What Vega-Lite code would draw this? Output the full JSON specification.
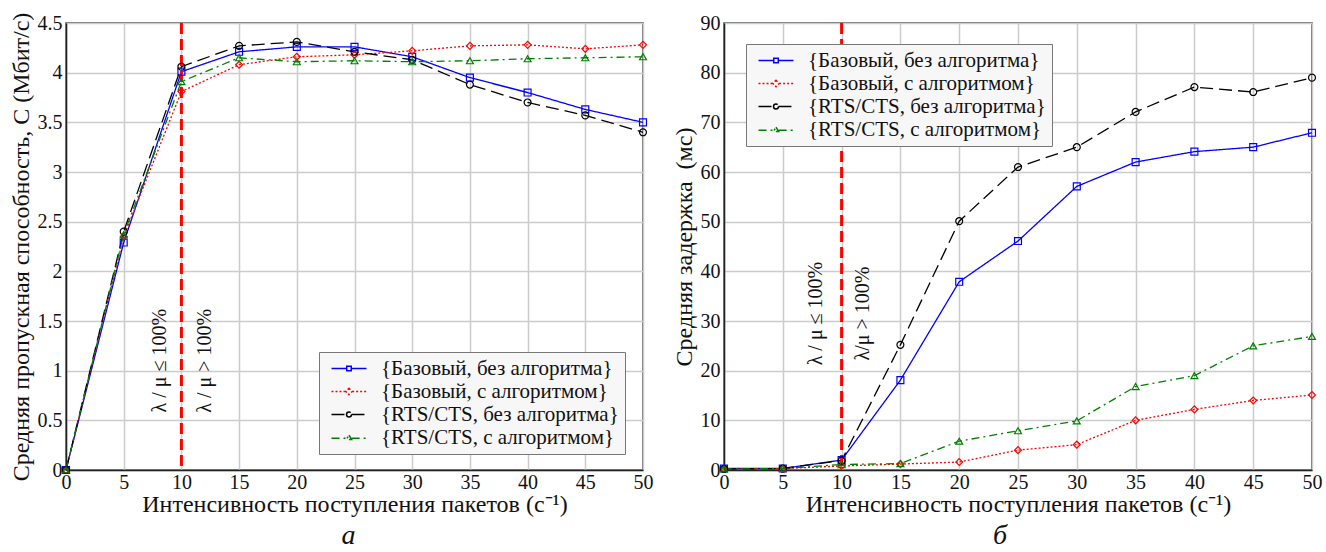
{
  "$schema": "https://vega.github.io/schema/vega-lite/v6.json",
  "background": "white",
  "padding": {"left": 8, "top": 11, "right": 5, "bottom": 0},
  "bounds": "flush",
  "spacing": 81,
  "config": {
    "font": "Liberation Serif",
    "view": {"stroke": "#444444", "strokeWidth": 1.5},
    "axis": {
      "labelFont": "Liberation Serif", "labelFontSize": 20, "labelColor": "#111111",
      "titleFont": "Liberation Serif", "titleFontSize": 24, "titleFontWeight": "normal", "titleColor": "#111111",
      "gridColor": "#cccccc", "gridWidth": 1.5, "ticks": false,
      "domainColor": "#222222", "domainWidth": 1.5
    },
    "axisX": {"labelPadding": 2, "labelDx": 5, "titlePadding": 0, "labelFlush": false},
    "axisY": {"labelPadding": 4, "titlePadding": 4},
    "point": {"filled": false, "size": 48, "strokeWidth": 1.2, "opacity": 1},
    "legend": {
      "symbolType": "M-2.5,0H2.5", "symbolSize": 196, "symbolStrokeWidth": 1.5,
      "labelFont": "Liberation Serif", "labelFontSize": 21, "labelColor": "#111111", "labelLimit": 500,
      "fillColor": "#f7f7f7", "strokeColor": "#777777", "padding": 6, "rowPadding": 1,
      "symbolOffset": 13.5, "labelOffset": 21.5
    },
    "title": {"font": "Liberation Serif", "fontStyle": "italic", "fontWeight": "normal", "fontSize": 28, "color": "#111111"}
  },
  "resolve": {
    "scale": {"color": "independent", "strokeDash": "independent", "x": "independent", "y": "independent"},
    "legend": {"color": "independent", "strokeDash": "independent"}
  },
  "datasets": {
    "thr": [
      {"x": 0, "s": "{Базовый, без алгоритма}", "y": 0},
      {"x": 5, "s": "{Базовый, без алгоритма}", "y": 2.29},
      {"x": 10, "s": "{Базовый, без алгоритма}", "y": 4.01},
      {"x": 15, "s": "{Базовый, без алгоритма}", "y": 4.21},
      {"x": 20, "s": "{Базовый, без алгоритма}", "y": 4.26},
      {"x": 25, "s": "{Базовый, без алгоритма}", "y": 4.26},
      {"x": 30, "s": "{Базовый, без алгоритма}", "y": 4.16},
      {"x": 35, "s": "{Базовый, без алгоритма}", "y": 3.95},
      {"x": 40, "s": "{Базовый, без алгоритма}", "y": 3.80},
      {"x": 45, "s": "{Базовый, без алгоритма}", "y": 3.63},
      {"x": 50, "s": "{Базовый, без алгоритма}", "y": 3.50},
      {"x": 0, "s": "{Базовый, с алгоритмом}", "y": 0},
      {"x": 5, "s": "{Базовый, с алгоритмом}", "y": 2.35},
      {"x": 10, "s": "{Базовый, с алгоритмом}", "y": 3.81},
      {"x": 15, "s": "{Базовый, с алгоритмом}", "y": 4.08},
      {"x": 20, "s": "{Базовый, с алгоритмом}", "y": 4.16},
      {"x": 25, "s": "{Базовый, с алгоритмом}", "y": 4.18},
      {"x": 30, "s": "{Базовый, с алгоритмом}", "y": 4.22},
      {"x": 35, "s": "{Базовый, с алгоритмом}", "y": 4.27},
      {"x": 40, "s": "{Базовый, с алгоритмом}", "y": 4.28},
      {"x": 45, "s": "{Базовый, с алгоритмом}", "y": 4.24},
      {"x": 50, "s": "{Базовый, с алгоритмом}", "y": 4.28},
      {"x": 0, "s": "{RTS/CTS, без алгоритма}", "y": 0},
      {"x": 5, "s": "{RTS/CTS, без алгоритма}", "y": 2.40},
      {"x": 10, "s": "{RTS/CTS, без алгоритма}", "y": 4.06},
      {"x": 15, "s": "{RTS/CTS, без алгоритма}", "y": 4.27},
      {"x": 20, "s": "{RTS/CTS, без алгоритма}", "y": 4.31},
      {"x": 25, "s": "{RTS/CTS, без алгоритма}", "y": 4.21},
      {"x": 30, "s": "{RTS/CTS, без алгоритма}", "y": 4.13},
      {"x": 35, "s": "{RTS/CTS, без алгоритма}", "y": 3.88},
      {"x": 40, "s": "{RTS/CTS, без алгоритма}", "y": 3.70},
      {"x": 45, "s": "{RTS/CTS, без алгоритма}", "y": 3.57},
      {"x": 50, "s": "{RTS/CTS, без алгоритма}", "y": 3.40},
      {"x": 0, "s": "{RTS/CTS, с алгоритмом}", "y": 0},
      {"x": 5, "s": "{RTS/CTS, с алгоритмом}", "y": 2.37},
      {"x": 10, "s": "{RTS/CTS, с алгоритмом}", "y": 3.91},
      {"x": 15, "s": "{RTS/CTS, с алгоритмом}", "y": 4.15},
      {"x": 20, "s": "{RTS/CTS, с алгоритмом}", "y": 4.11},
      {"x": 25, "s": "{RTS/CTS, с алгоритмом}", "y": 4.12},
      {"x": 30, "s": "{RTS/CTS, с алгоритмом}", "y": 4.11},
      {"x": 35, "s": "{RTS/CTS, с алгоритмом}", "y": 4.12},
      {"x": 40, "s": "{RTS/CTS, с алгоритмом}", "y": 4.14},
      {"x": 45, "s": "{RTS/CTS, с алгоритмом}", "y": 4.15},
      {"x": 50, "s": "{RTS/CTS, с алгоритмом}", "y": 4.16}
    ],
    "del": [
      {"x": 0, "s": "{Базовый, без алгоритма}", "y": 0.3},
      {"x": 5, "s": "{Базовый, без алгоритма}", "y": 0.3},
      {"x": 10, "s": "{Базовый, без алгоритма}", "y": 2.0},
      {"x": 15, "s": "{Базовый, без алгоритма}", "y": 18.1},
      {"x": 20, "s": "{Базовый, без алгоритма}", "y": 37.9},
      {"x": 25, "s": "{Базовый, без алгоритма}", "y": 46.1},
      {"x": 30, "s": "{Базовый, без алгоритма}", "y": 57.1},
      {"x": 35, "s": "{Базовый, без алгоритма}", "y": 62.0},
      {"x": 40, "s": "{Базовый, без алгоритма}", "y": 64.1},
      {"x": 45, "s": "{Базовый, без алгоритма}", "y": 65.0},
      {"x": 50, "s": "{Базовый, без алгоритма}", "y": 67.9},
      {"x": 0, "s": "{Базовый, с алгоритмом}", "y": 0.2},
      {"x": 5, "s": "{Базовый, с алгоритмом}", "y": 0.3},
      {"x": 10, "s": "{Базовый, с алгоритмом}", "y": 0.8},
      {"x": 15, "s": "{Базовый, с алгоритмом}", "y": 1.2},
      {"x": 20, "s": "{Базовый, с алгоритмом}", "y": 1.6},
      {"x": 25, "s": "{Базовый, с алгоритмом}", "y": 4.0},
      {"x": 30, "s": "{Базовый, с алгоритмом}", "y": 5.1},
      {"x": 35, "s": "{Базовый, с алгоритмом}", "y": 10.0},
      {"x": 40, "s": "{Базовый, с алгоритмом}", "y": 12.2},
      {"x": 45, "s": "{Базовый, с алгоритмом}", "y": 14.0},
      {"x": 50, "s": "{Базовый, с алгоритмом}", "y": 15.1},
      {"x": 0, "s": "{RTS/CTS, без алгоритма}", "y": 0.2},
      {"x": 5, "s": "{RTS/CTS, без алгоритма}", "y": 0.3},
      {"x": 10, "s": "{RTS/CTS, без алгоритма}", "y": 1.9},
      {"x": 15, "s": "{RTS/CTS, без алгоритма}", "y": 25.2},
      {"x": 20, "s": "{RTS/CTS, без алгоритма}", "y": 50.1},
      {"x": 25, "s": "{RTS/CTS, без алгоритма}", "y": 61.0},
      {"x": 30, "s": "{RTS/CTS, без алгоритма}", "y": 65.0},
      {"x": 35, "s": "{RTS/CTS, без алгоритма}", "y": 72.1},
      {"x": 40, "s": "{RTS/CTS, без алгоритма}", "y": 77.1},
      {"x": 45, "s": "{RTS/CTS, без алгоритма}", "y": 76.1},
      {"x": 50, "s": "{RTS/CTS, без алгоритма}", "y": 79.0},
      {"x": 0, "s": "{RTS/CTS, с алгоритмом}", "y": 0.2},
      {"x": 5, "s": "{RTS/CTS, с алгоритмом}", "y": 0.3},
      {"x": 10, "s": "{RTS/CTS, с алгоритмом}", "y": 1.1},
      {"x": 15, "s": "{RTS/CTS, с алгоритмом}", "y": 1.3},
      {"x": 20, "s": "{RTS/CTS, с алгоритмом}", "y": 5.8},
      {"x": 25, "s": "{RTS/CTS, с алгоритмом}", "y": 7.9},
      {"x": 30, "s": "{RTS/CTS, с алгоритмом}", "y": 9.9},
      {"x": 35, "s": "{RTS/CTS, с алгоритмом}", "y": 16.8},
      {"x": 40, "s": "{RTS/CTS, с алгоритмом}", "y": 19.0},
      {"x": 45, "s": "{RTS/CTS, с алгоритмом}", "y": 25.0},
      {"x": 50, "s": "{RTS/CTS, с алгоритмом}", "y": 26.9}
    ]
  },
  "hconcat": [
    {
      "width": 577,
      "height": 447,
      "title": {"text": "а", "orient": "bottom", "frame": "group", "dx": -6, "offset": 6},
      "layer": [
        {
          "data": {"name": "thr"},
          "mark": {"type": "line", "strokeWidth": 1.3},
          "encoding": {
            "x": {"field": "x", "type": "quantitative", "scale": {"domain": [0, 50], "nice": false},
                  "axis": {"title": "Интенсивность поступления пакетов (с⁻¹)", "values": [0, 5, 10, 15, 20, 25, 30, 35, 40, 45, 50]}},
            "y": {"field": "y", "type": "quantitative", "scale": {"domain": [0, 4.5], "nice": false},
                  "axis": {"title": "Средняя пропускная способность, С (Мбит/с)", "values": [0, 0.5, 1, 1.5, 2, 2.5, 3, 3.5, 4, 4.5], "format": "~g"}},
            "color": {"field": "s", "type": "nominal",
                      "scale": {"domain": ["{Базовый, без алгоритма}", "{Базовый, с алгоритмом}", "{RTS/CTS, без алгоритма}", "{RTS/CTS, с алгоритмом}"], "range": ["#0000ff", "#ff0000", "#000000", "#008000"]},
                      "legend": {"title": null, "orient": "none", "legendX": 253, "legendY": 329,
                                 "encoding": {"symbols": {"shape": {"value": {"expr": "['M-2.5,0H-0.32M0.32,0H2.5M-0.32,-0.32H0.32V0.32H-0.32Z','M-2.5,0H-0.45M0.45,0H2.5M0,-0.45L0.45,0L0,0.45L-0.45,0Z','M-2.5,0H-0.35M0.35,0H2.5M0.35,0A0.35,0.35,0,1,1,-0.35,0A0.35,0.35,0,1,1,0.35,0Z','M-2.5,0.1H-0.38M0.38,0.1H2.5M0,-0.35L0.38,0.3H-0.38Z'][datum.index]"}}}}}},
            "strokeDash": {"field": "s", "type": "nominal",
                      "scale": {"domain": ["{Базовый, без алгоритма}", "{Базовый, с алгоритмом}", "{RTS/CTS, без алгоритма}", "{RTS/CTS, с алгоритмом}"], "range": [[1, 0], [2, 2], [13, 6], [8, 4, 2, 4]]},
                      "legend": {"title": null, "orient": "none", "legendX": 253, "legendY": 329,
                                 "encoding": {"symbols": {"shape": {"value": {"expr": "['M-2.5,0H-0.32M0.32,0H2.5M-0.32,-0.32H0.32V0.32H-0.32Z','M-2.5,0H-0.45M0.45,0H2.5M0,-0.45L0.45,0L0,0.45L-0.45,0Z','M-2.5,0H-0.35M0.35,0H2.5M0.35,0A0.35,0.35,0,1,1,-0.35,0A0.35,0.35,0,1,1,0.35,0Z','M-2.5,0.1H-0.38M0.38,0.1H2.5M0,-0.35L0.38,0.3H-0.38Z'][datum.index]"}}}}}}
          }
        },
        {
          "data": {"values": [{}]},
          "mark": {"type": "rule", "color": "#ff0000", "strokeWidth": 3, "strokeDash": [11, 5]},
          "encoding": {"x": {"datum": 10}}
        },
        {
          "data": {"name": "thr"},
          "transform": [{"filter": {"field": "s", "equal": "{Базовый, без алгоритма}"}}],
          "mark": {"type": "point", "shape": "square", "color": "#0000ff"},
          "encoding": {"x": {"field": "x", "type": "quantitative"}, "y": {"field": "y", "type": "quantitative"}}
        },
        {
          "data": {"name": "thr"},
          "transform": [{"filter": {"field": "s", "equal": "{Базовый, с алгоритмом}"}}],
          "mark": {"type": "point", "shape": "diamond", "color": "#ff0000"},
          "encoding": {"x": {"field": "x", "type": "quantitative"}, "y": {"field": "y", "type": "quantitative"}}
        },
        {
          "data": {"name": "thr"},
          "transform": [{"filter": {"field": "s", "equal": "{RTS/CTS, без алгоритма}"}}],
          "mark": {"type": "point", "shape": "circle", "color": "#000000"},
          "encoding": {"x": {"field": "x", "type": "quantitative"}, "y": {"field": "y", "type": "quantitative"}}
        },
        {
          "data": {"name": "thr"},
          "transform": [{"filter": {"field": "s", "equal": "{RTS/CTS, с алгоритмом}"}}],
          "mark": {"type": "point", "shape": "triangle-up", "color": "#008000"},
          "encoding": {"x": {"field": "x", "type": "quantitative"}, "y": {"field": "y", "type": "quantitative"}}
        },
        {
          "data": {"values": [{}]},
          "mark": {"type": "text", "angle": 270, "align": "center", "baseline": "bottom", "dy": -11, "fontSize": 20, "font": "Liberation Serif", "color": "#111111"},
          "encoding": {"x": {"datum": 10}, "y": {"datum": 1.1}, "text": {"value": "λ / μ ≤ 100%"}}
        },
        {
          "data": {"values": [{}]},
          "mark": {"type": "text", "angle": 270, "align": "center", "baseline": "top", "dy": 14, "fontSize": 20, "font": "Liberation Serif", "color": "#111111"},
          "encoding": {"x": {"datum": 10}, "y": {"datum": 1.1}, "text": {"value": "λ / μ > 100%"}}
        }
      ]
    },
    {
      "width": 588,
      "height": 447,
      "title": {"text": "б", "orient": "bottom", "frame": "group", "dx": -18, "offset": 6},
      "layer": [
        {
          "data": {"name": "del"},
          "mark": {"type": "line", "strokeWidth": 1.3},
          "encoding": {
            "x": {"field": "x", "type": "quantitative", "scale": {"domain": [0, 50], "nice": false},
                  "axis": {"title": "Интенсивность поступления пакетов (с⁻¹)", "values": [0, 5, 10, 15, 20, 25, 30, 35, 40, 45, 50]}},
            "y": {"field": "y", "type": "quantitative", "scale": {"domain": [0, 90], "nice": false},
                  "axis": {"title": "Средняя задержка\u00a0\u00a0(мс)", "values": [0, 10, 20, 30, 40, 50, 60, 70, 80, 90]}},
            "color": {"field": "s", "type": "nominal",
                      "scale": {"domain": ["{Базовый, без алгоритма}", "{Базовый, с алгоритмом}", "{RTS/CTS, без алгоритма}", "{RTS/CTS, с алгоритмом}"], "range": ["#0000ff", "#ff0000", "#000000", "#008000"]},
                      "legend": {"title": null, "orient": "none", "legendX": 22, "legendY": 21,
                                 "encoding": {"symbols": {"shape": {"value": {"expr": "['M-2.5,0H-0.32M0.32,0H2.5M-0.32,-0.32H0.32V0.32H-0.32Z','M-2.5,0H-0.45M0.45,0H2.5M0,-0.45L0.45,0L0,0.45L-0.45,0Z','M-2.5,0H-0.35M0.35,0H2.5M0.35,0A0.35,0.35,0,1,1,-0.35,0A0.35,0.35,0,1,1,0.35,0Z','M-2.5,0.1H-0.38M0.38,0.1H2.5M0,-0.35L0.38,0.3H-0.38Z'][datum.index]"}}}}}},
            "strokeDash": {"field": "s", "type": "nominal",
                      "scale": {"domain": ["{Базовый, без алгоритма}", "{Базовый, с алгоритмом}", "{RTS/CTS, без алгоритма}", "{RTS/CTS, с алгоритмом}"], "range": [[1, 0], [2, 2], [13, 6], [8, 4, 2, 4]]},
                      "legend": {"title": null, "orient": "none", "legendX": 22, "legendY": 21,
                                 "encoding": {"symbols": {"shape": {"value": {"expr": "['M-2.5,0H-0.32M0.32,0H2.5M-0.32,-0.32H0.32V0.32H-0.32Z','M-2.5,0H-0.45M0.45,0H2.5M0,-0.45L0.45,0L0,0.45L-0.45,0Z','M-2.5,0H-0.35M0.35,0H2.5M0.35,0A0.35,0.35,0,1,1,-0.35,0A0.35,0.35,0,1,1,0.35,0Z','M-2.5,0.1H-0.38M0.38,0.1H2.5M0,-0.35L0.38,0.3H-0.38Z'][datum.index]"}}}}}}
          }
        },
        {
          "data": {"values": [{}]},
          "mark": {"type": "rule", "color": "#ff0000", "strokeWidth": 3, "strokeDash": [11, 5]},
          "encoding": {"x": {"datum": 10}}
        },
        {
          "data": {"name": "del"},
          "transform": [{"filter": {"field": "s", "equal": "{Базовый, без алгоритма}"}}],
          "mark": {"type": "point", "shape": "square", "color": "#0000ff"},
          "encoding": {"x": {"field": "x", "type": "quantitative"}, "y": {"field": "y", "type": "quantitative"}}
        },
        {
          "data": {"name": "del"},
          "transform": [{"filter": {"field": "s", "equal": "{Базовый, с алгоритмом}"}}],
          "mark": {"type": "point", "shape": "diamond", "color": "#ff0000"},
          "encoding": {"x": {"field": "x", "type": "quantitative"}, "y": {"field": "y", "type": "quantitative"}}
        },
        {
          "data": {"name": "del"},
          "transform": [{"filter": {"field": "s", "equal": "{RTS/CTS, без алгоритма}"}}],
          "mark": {"type": "point", "shape": "circle", "color": "#000000"},
          "encoding": {"x": {"field": "x", "type": "quantitative"}, "y": {"field": "y", "type": "quantitative"}}
        },
        {
          "data": {"name": "del"},
          "transform": [{"filter": {"field": "s", "equal": "{RTS/CTS, с алгоритмом}"}}],
          "mark": {"type": "point", "shape": "triangle-up", "color": "#008000"},
          "encoding": {"x": {"field": "x", "type": "quantitative"}, "y": {"field": "y", "type": "quantitative"}}
        },
        {
          "data": {"values": [{}]},
          "mark": {"type": "text", "angle": 270, "align": "center", "baseline": "bottom", "dy": -16, "fontSize": 20, "font": "Liberation Serif", "color": "#111111"},
          "encoding": {"x": {"datum": 10}, "y": {"datum": 31.5}, "text": {"value": "λ / μ ≤ 100%"}}
        },
        {
          "data": {"values": [{}]},
          "mark": {"type": "text", "angle": 270, "align": "center", "baseline": "top", "dy": 11, "fontSize": 20, "font": "Liberation Serif", "color": "#111111"},
          "encoding": {"x": {"datum": 10}, "y": {"datum": 31.5}, "text": {"value": "λ/μ > 100%"}}
        }
      ]
    }
  ]
}
